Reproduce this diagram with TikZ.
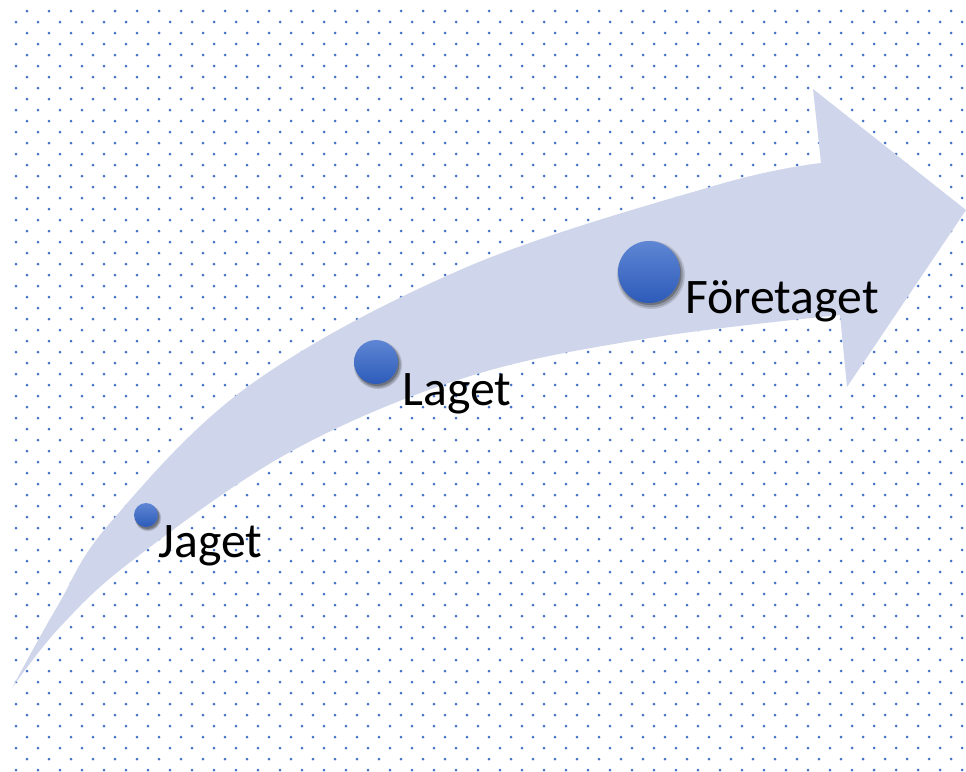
\documentclass[tikz,border=0pt]{standalone}
\usepackage{fontspec}
\setmainfont{Carlito}
\usetikzlibrary{shadows}
\definecolor{dotblue}{HTML}{4472C4}
\definecolor{bandblue}{HTML}{CFD5EA}
\definecolor{balltop}{HTML}{5E86D4}
\definecolor{ballbottom}{HTML}{2D5BB9}
\tikzset{
  ball/.style={circle, inner sep=0pt, top color=balltop, bottom color=ballbottom,
    drop shadow={shadow xshift=1pt, shadow yshift=-1.5pt, shadow scale=1.10, opacity=0.12, fill=black},
    drop shadow={shadow xshift=1pt, shadow yshift=-1.5pt, shadow scale=1.05, opacity=0.18, fill=black},
    drop shadow={shadow xshift=0.8pt, shadow yshift=-1.2pt, shadow scale=1.0, opacity=0.25, fill=black}},
  steplabel/.style={anchor=base west, inner sep=0pt, font=\fontsize{28.3}{34}\selectfont}
}
\begin{document}
\begin{tikzpicture}[x=0.02cm, y=-0.02cm]
  \useasboundingbox (0,0) rectangle (966,771);
  % dotted background
  \foreach \j in {0,...,34} {
    \foreach \i in {0,...,43}
      \fill[dotblue] (16+22*\i,22+22*\j) circle[radius=1.5];
    \foreach \i in {0,...,42}
      \fill[dotblue] (27+22*\i,11+22*\j) circle[radius=1.5];
  }
  % curved arrow
  \fill[bandblue] plot[smooth, tension=0.6] coordinates {(12,688) (57,607) (110,523) (250,385) (467,267) (717,185) (821,163)}
    -- (813,89) -- (966,210) -- (847,387) -- (840,315)
    -- plot[smooth, tension=0.6] coordinates {(840,315) (650,338) (467,377) (290,452) (133,560) (60,627) (12,688)} -- cycle;
  % steps
  \node[ball, minimum size=0.48cm] (jaget) at (146,515) {};
  \node[ball, minimum size=0.88cm] (laget) at (376,362) {};
  \node[ball, minimum size=1.24cm] (foretaget) at (649,272) {};
  \node[steplabel] (jagettext) at (158,557) {Jaget};
  \node[steplabel] (lagettext) at (402,405) {Laget};
  \node[steplabel] (foretagettext) at (685,313) {Företaget};
\end{tikzpicture}
\end{document}
